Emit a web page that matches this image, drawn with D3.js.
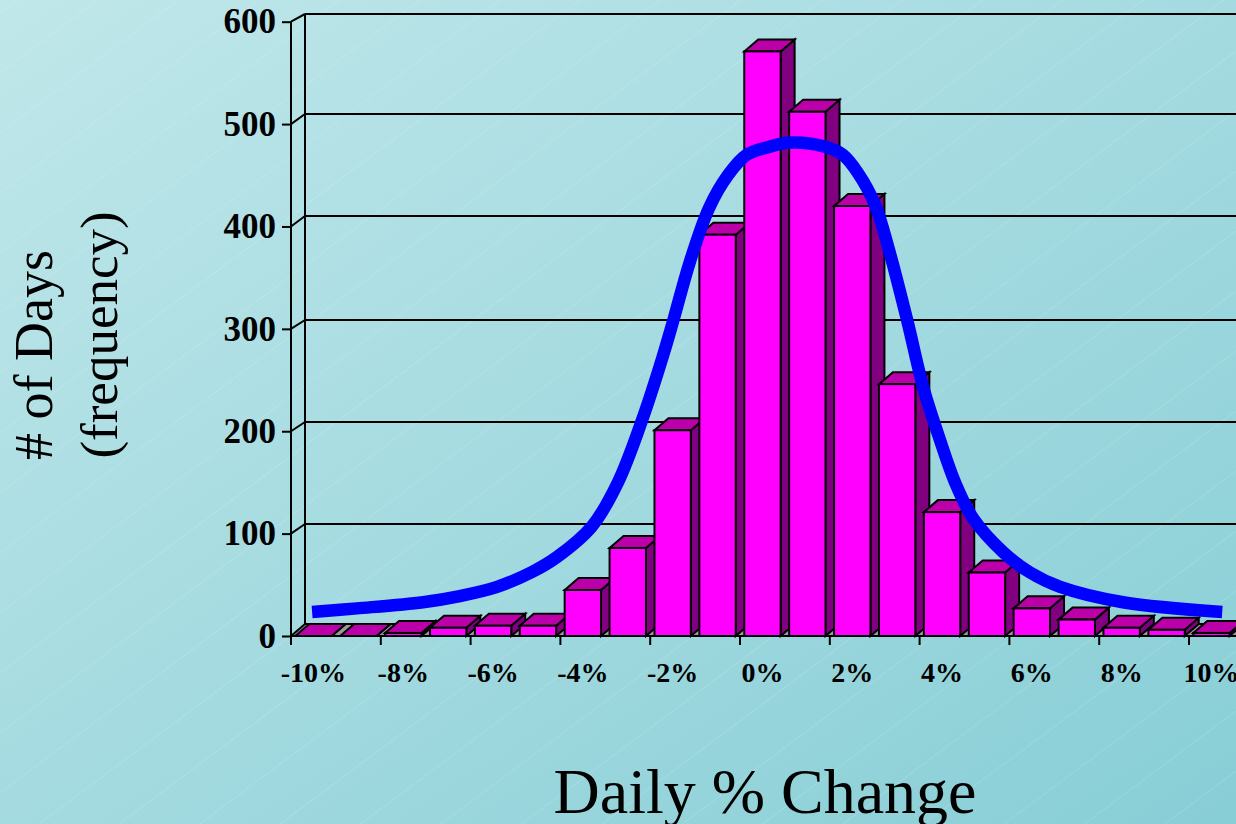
<!DOCTYPE html>
<html><head><meta charset="utf-8">
<script src="https://cdn.jsdelivr.net/npm/d3@7/dist/d3.min.js"></script>
<style>html,body{margin:0;padding:0;overflow:hidden;background:#a8dce0}svg{display:block}
text{font-family:"Liberation Serif","Times New Roman",serif;fill:#000}</style></head>
<body><svg id="c" width="1236" height="824"></svg>
<script>
const categories = ["-10%","-9%","-8%","-7%","-6%","-5%","-4%","-3%","-2%","-1%","0%","1%","2%","3%","4%","5%","6%","7%","8%","9%","10%"];
const frequency = [0,0,3,8,10,10,45,86,201,392,571,512,420,246,121,62,27,16,8,6,3];
const curvePct = [-10.03,-9.03,-7.56,-6.74,-5.91,-5.11,-4.58,-3.80,-3.22,-2.68,-2.22,-1.98,-1.62,-1.19,-0.77,-0.35,0.17,0.61,1.39,1.79,2.13,2.51,2.80,3.22,3.58,3.95,4.29,4.69,5.36,5.96,6.63,8.03,10.24];
const curveFreq = [23.5,27,33,39,48,63,77,107,150,211,273,309,365,418,450,470,478,482,478,470,452,421,380,309,243,192,150,115,82,62,48,33,23.5];
const xTickLabels = ["-10%","-8%","-6%","-4%","-2%","0%","2%","4%","6%","8%","10%"];
const yTicks = [0,100,200,300,400,500,600];
const wallPx = [624,524,422,320,216,114,14];
const xTitle = "Daily % Change";
const yTitle = ["# of Days","(frequency)"];

const W=1236,H=824, step=44.9, left=291, depthX=14, depthY=12, floorY=636;
const svg=d3.select("#c");
const defs=svg.append("defs");
const g=defs.append("linearGradient").attr("id","bg").attr("x1",0).attr("y1",0).attr("x2",1).attr("y2",1);
g.append("stop").attr("offset",0).attr("stop-color","#c0e7ea");
g.append("stop").attr("offset",1).attr("stop-color","#88ced6");
svg.append("rect").attr("width",W).attr("height",H).attr("fill","url(#bg)");
// faint background texture
const tex=svg.append("g").attr("stroke","#fff").attr("stroke-opacity",0.16).attr("stroke-width",1);
for(let c=13;c<H+W;c+=60){ tex.append("line").attr("x1",0).attr("y1",c).attr("x2",W).attr("y2",c-0.746*W); }

const x=d3.scaleBand().domain(categories).range([left,left+step*categories.length]).paddingInner(0.19).paddingOuter(0.095);
const y=d3.scaleLinear().domain([0,600]).range([floorY,21.7]);
const yBack=d3.scaleLinear().domain(yTicks).range(wallPx);
const xCurve=d3.scaleLinear().domain([-10,10]).range([left+step/2,left+step*20.5]);
const K="#000", LW=2;

// floor
svg.append("polygon").attr("points",[[left,floorY],[left+depthX,yBack(0)],[W+20,yBack(0)],[W+20,floorY]].join(" ")).attr("fill","#9a9a9a");
// back wall grid
const wall=svg.append("g").attr("stroke",K).attr("stroke-width",LW).attr("fill","none");
wall.selectAll("line.g").data(yTicks).join("line").attr("class","g").attr("x1",left+depthX).attr("x2",W)
  .attr("y1",d=>yBack(d)).attr("y2",d=>yBack(d));
wall.selectAll("line.c").data(yTicks).join("line").attr("class","c").attr("x1",left).attr("x2",left+depthX)
  .attr("y1",d=>y(d)).attr("y2",d=>yBack(d));
wall.append("line").attr("x1",left+depthX).attr("x2",left+depthX).attr("y1",yBack(600)).attr("y2",yBack(0));

// bars
const bw=x.bandwidth();
const bars=svg.append("g").attr("stroke",K).attr("stroke-width",LW).attr("stroke-linejoin","miter");
const rows=categories.map((c,i)=>({c,v:frequency[i]}));
const bar=bars.selectAll("g").data(rows).join("g");
bar.append("polygon").attr("fill","#800080").attr("points",d=>{const a=x(d.c)+bw,t=y(d.v);
  return [[a,floorY],[a+depthX,floorY-depthY],[a+depthX,t-depthY],[a,t]].join(" ");});
bar.append("polygon").attr("fill","#bb00aa").attr("points",d=>{const a=x(d.c),t=y(d.v);
  return [[a,t],[a+depthX,t-depthY],[a+bw+depthX,t-depthY],[a+bw,t]].join(" ");});
bar.append("rect").attr("fill","#ff00ff").attr("x",d=>x(d.c)).attr("y",d=>y(d.v)).attr("width",bw).attr("height",d=>floorY-y(d.v));

// axes
const yAxis=svg.append("g").attr("transform",`translate(${left},0)`)
  .call(d3.axisLeft(y).tickValues(yTicks).tickSize(9).tickPadding(6));
yAxis.select(".domain").remove();
yAxis.selectAll("line").attr("stroke",K).attr("stroke-width",LW);
yAxis.selectAll("text").attr("font-size",35).attr("font-weight","bold").attr("font-family",'"Liberation Serif"');
svg.append("line").attr("x1",left).attr("x2",left).attr("y1",y(600)).attr("y2",floorY+9).attr("stroke",K).attr("stroke-width",LW);

const xAxis=svg.append("g").attr("transform",`translate(0,${floorY})`)
  .call(d3.axisBottom(x).tickValues(xTickLabels).tickSize(9).tickPadding(17));
xAxis.select(".domain").remove();
xAxis.selectAll("line").attr("stroke",K).attr("stroke-width",LW).attr("x1",-step/2).attr("x2",-step/2);
xAxis.selectAll("text").attr("font-size",28).attr("font-weight","bold").attr("font-family",'"Liberation Serif"');
svg.append("line").attr("x1",left).attr("x2",W).attr("y1",floorY).attr("y2",floorY).attr("stroke",K).attr("stroke-width",LW);

// curve
const line=d3.line().x((d,i)=>xCurve(curvePct[i])).y(d=>y(d)).curve(d3.curveCatmullRom.alpha(0.5));
svg.append("path").attr("d",line(curveFreq)).attr("fill","none").attr("stroke","#0000ff").attr("stroke-width",12.5);

// titles
svg.append("text").attr("x",765).attr("y",813).attr("text-anchor","middle").attr("font-size",64).text(xTitle);
[[52,355,54],[117,335,53]].forEach((p,i)=>{
  svg.append("text").attr("transform",`translate(${p[0]},${p[1]}) rotate(-90)`).attr("text-anchor","middle").attr("font-size",p[2]).text(yTitle[i]);
});
</script></body></html>
